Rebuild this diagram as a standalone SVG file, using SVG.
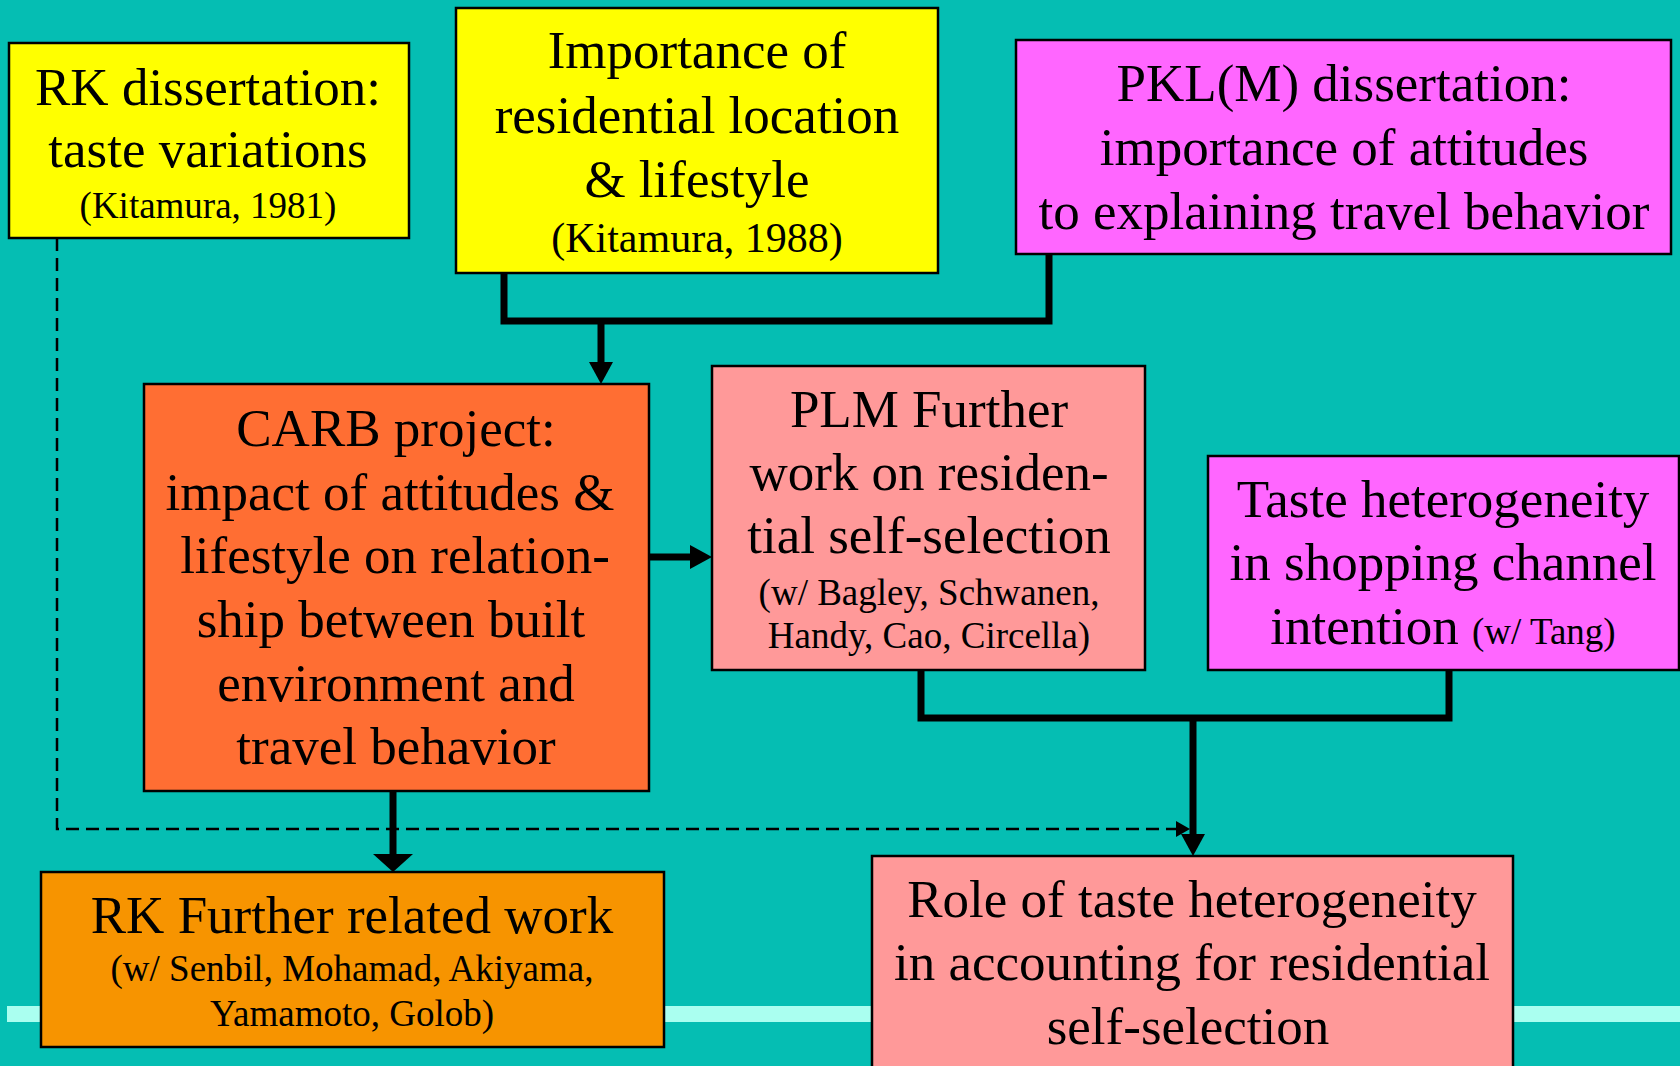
<svg xmlns="http://www.w3.org/2000/svg" width="1680" height="1066" viewBox="0 0 1680 1066">
<style>
.box{stroke:#000;stroke-width:2.5}
.t{font-family:"Liberation Serif","Times New Roman",serif;font-size:53px;text-anchor:middle;fill:#000}
.s{font-size:37px}
.c{fill:none;stroke:#000;stroke-width:7;stroke-linejoin:miter}
.d{fill:none;stroke:#000;stroke-width:2.5;stroke-dasharray:13 7}
</style>
<defs>
<marker id="ah" markerUnits="userSpaceOnUse" markerWidth="24" markerHeight="26" refX="1" refY="12" orient="auto" overflow="visible"><path d="M0,0 L22,12 L0,24 z" fill="#000"/></marker>
<marker id="ahw" markerUnits="userSpaceOnUse" markerWidth="20" markerHeight="42" refX="1" refY="20" orient="auto" overflow="visible"><path d="M0,0 L18,20 L0,40 z" fill="#000"/></marker>
<marker id="ahs" markerUnits="userSpaceOnUse" markerWidth="16" markerHeight="18" refX="1" refY="8" orient="auto" overflow="visible"><path d="M0,0 L14,8 L0,16 z" fill="#000"/></marker>
</defs>
<rect x="0" y="0" width="1680" height="1066" fill="#05BEB3"/>
<rect x="7" y="1006" width="1673" height="16" fill="#AAFFF0"/>
<g id="connectors">
<polyline class="c" points="504,273 504,321 1049,321 1049,254"/>
<line class="c" x1="601" y1="321" x2="601" y2="363" marker-end="url(#ah)"/>
<line class="c" x1="649" y1="557" x2="691" y2="557" marker-end="url(#ah)"/>
<polyline class="c" points="921,670 921,718 1449,718 1449,670"/>
<line class="c" x1="1193" y1="718" x2="1193" y2="835" marker-end="url(#ah)"/>
<line class="c" x1="393" y1="791" x2="393" y2="855" marker-end="url(#ahw)"/>
<path class="d" d="M57,238 V829 H1177" marker-end="url(#ahs)"/>
</g>
<g id="rk-dissertation">
<rect class="box" x="9" y="43" width="400" height="195" fill="#FFFF00"/>
<text class="t" x="208" y="105">RK dissertation:</text>
<text class="t" x="208" y="167">taste variations</text>
<text class="t s" x="208" y="218">(Kitamura, 1981)</text>
</g>
<g id="importance">
<rect class="box" x="456" y="8" width="482" height="265" fill="#FFFF00"/>
<text class="t" x="697" y="68">Importance of</text>
<text class="t" x="697" y="133">residential location</text>
<text class="t" x="697" y="197">&amp; lifestyle</text>
<text class="t" x="697" y="252" style="font-size:42px">(Kitamura, 1988)</text>
</g>
<g id="pklm-dissertation">
<rect class="box" x="1016" y="40" width="655" height="214" fill="#FF66FF"/>
<text class="t" x="1344" y="101">PKL(M) dissertation:</text>
<text class="t" x="1344" y="165">importance of attitudes</text>
<text class="t" x="1344" y="229">to explaining travel behavior</text>
</g>
<g id="carb">
<rect class="box" x="144" y="384" width="505" height="407" fill="#FF6E33"/>
<text class="t" x="396" y="446">CARB project:</text>
<text class="t" x="390" y="510">impact of attitudes &amp;</text>
<text class="t" x="395" y="573">lifestyle on relation-</text>
<text class="t" x="391" y="637">ship between built</text>
<text class="t" x="396" y="701">environment and</text>
<text class="t" x="396" y="764">travel behavior</text>
</g>
<g id="plm">
<rect class="box" x="712" y="366" width="433" height="304" fill="#FF9999"/>
<text class="t" x="929" y="427">PLM Further</text>
<text class="t" x="929" y="490">work on residen-</text>
<text class="t" x="929" y="553">tial self-selection</text>
<text class="t s" x="929" y="605">(w/ Bagley, Schwanen,</text>
<text class="t s" x="929" y="648">Handy, Cao, Circella)</text>
</g>
<g id="taste">
<rect class="box" x="1208" y="456" width="471" height="214" fill="#FF66FF"/>
<text class="t" x="1443" y="517">Taste heterogeneity</text>
<text class="t" x="1443" y="580">in shopping channel</text>
<text class="t" x="1443" y="644">intention <tspan class="s">(w/ Tang)</tspan></text>
</g>
<g id="rk-further">
<rect class="box" x="41" y="872" width="623" height="175" fill="#F79400"/>
<text class="t" x="352" y="933">RK Further related work</text>
<text class="t s" x="352" y="981">(w/ Senbil, Mohamad, Akiyama,</text>
<text class="t s" x="352" y="1026">Yamamoto, Golob)</text>
</g>
<g id="role">
<rect class="box" x="872" y="856" width="641" height="220" fill="#FF9999"/>
<text class="t" x="1192" y="917">Role of taste heterogeneity</text>
<text class="t" x="1192" y="980">in accounting for residential</text>
<text class="t" x="1188" y="1044">self-selection</text>
</g>
</svg>
